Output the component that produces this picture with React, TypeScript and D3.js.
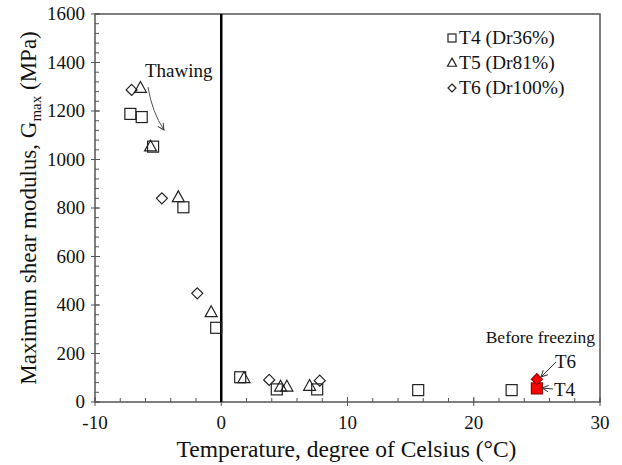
import React from 'react'
import * as d3 from 'd3'

// T4 (Dr36%) – squares
const t4Temp = [-7.2, -6.3, -5.4, -3.0, -0.4, 1.5, 4.4, 7.6, 15.6, 23.0]
const t4Gmax = [1188, 1175, 1053, 803, 306, 102, 52, 52, 49, 49]
// T5 (Dr81%) – triangles
const t5Temp = [-6.4, -5.6, -3.4, -0.8, 1.8, 4.7, 5.2, 7.0]
const t5Gmax = [1295, 1053, 844, 370, 98, 63, 63, 66]
// T6 (Dr100%) – diamonds
const t6Temp = [-7.1, -4.7, -1.9, 3.8, 7.8]
const t6Gmax = [1287, 840, 448, 91, 88]
// before freezing (red)
const beforeT4 = [25.0, 56]
const beforeT6 = [25.0, 94]

const xTicks = [-10, 0, 10, 20, 30]
const yTicks = [0, 200, 400, 600, 800, 1000, 1200, 1400, 1600]
const legendLabels = ['T4 (Dr36%)', 'T5 (Dr81%)', 'T6 (Dr100%)']

const W = 622
const H = 465
const margin = { top: 14, right: 22, bottom: 63, left: 95 }
const font = 'Liberation Serif, DejaVu Serif, serif'
const axisColor = '#555'
const ink = '#222'

const x = d3.scaleLinear().domain([-10, 30]).range([margin.left, W - margin.right])
const y = d3.scaleLinear().domain([0, 1600]).range([H - margin.bottom, margin.top])

const square = (cx: number, cy: number, s: number, fill = 'none', stroke = ink) => (
	<rect x={cx - s / 2} y={cy - s / 2} width={s} height={s} fill={fill} stroke={stroke} strokeWidth={1.2} />
)
const triangle = (cx: number, cy: number, s: number) => {
	const h = s * 0.9
	return (
		<path
			d={`M${cx},${cy - h * 0.6}L${cx + s / 2},${cy + h * 0.4}L${cx - s / 2},${cy + h * 0.4}Z`}
			fill="none"
			stroke={ink}
			strokeWidth={1.2}
		/>
	)
}
const diamond = (cx: number, cy: number, s: number, fill = 'none', stroke = ink) => (
	<path
		d={`M${cx},${cy - s / 2}L${cx + s / 2},${cy}L${cx},${cy + s / 2}L${cx - s / 2},${cy}Z`}
		fill={fill}
		stroke={stroke}
		strokeWidth={1.2}
	/>
)

export default function App() {
	const x0 = margin.left
	const x1 = W - margin.right
	const y0 = H - margin.bottom
	const y1 = margin.top

	const xMinor = d3.range(-10, 30.01, 2)
	const yMinor = d3.range(0, 1600.01, 40)

	return (
		<svg
			width={W}
			height={H}
			style={{ position: 'absolute', left: 0, top: 0, background: '#fff', fontFamily: font }}
		>
			{/* minor ticks */}
			{xMinor.map(v => (
				<line key={'xm' + v} x1={x(v)} x2={x(v)} y1={y0} y2={y0 - 4} stroke={axisColor} strokeWidth={1} />
			))}
			{xTicks.map(v => (
				<line key={'xM' + v} x1={x(v)} x2={x(v)} y1={y0 + 4} y2={y0 - 5} stroke={axisColor} strokeWidth={1} />
			))}
			{yMinor.map(v => (
				<line key={'ym' + v} x1={x0} x2={x0 + 4} y1={y(v)} y2={y(v)} stroke={axisColor} strokeWidth={1} />
			))}
			{yTicks.map(v => (
				<line key={'yM' + v} x1={x0 - 4} x2={x0 + 5} y1={y(v)} y2={y(v)} stroke={axisColor} strokeWidth={1} />
			))}

			{/* frame */}
			<rect x={x0} y={y1} width={x1 - x0} height={y0 - y1} fill="none" stroke={axisColor} strokeWidth={1.5} />

			{/* zero line */}
			<line x1={x(0)} x2={x(0)} y1={y1} y2={y0} stroke="#000" strokeWidth={2.5} />

			{/* tick labels */}
			{xTicks.map(v => (
				<text key={'xl' + v} x={x(v)} y={y0 + 27} textAnchor="middle" fontSize={19} fill="#111">
					{v}
				</text>
			))}
			{yTicks.map(v => (
				<text key={'yl' + v} x={x0 - 10} y={y(v) + 6} textAnchor="end" fontSize={19} fill="#111">
					{v}
				</text>
			))}

			{/* axis titles */}
			<text x={(x0 + x1) / 2 - 1} y={H - 8} textAnchor="middle" fontSize={23.5} fill="#111">
				Temperature, degree of Celsius (°C)
			</text>
			<text transform={`translate(36, ${(y0 + y1) / 2}) rotate(-90)`} textAnchor="middle" fontSize={23} fill="#111">
				Maximum shear modulus, G<tspan fontSize={15} dy={5}>max</tspan>
				<tspan dy={-5}> (MPa)</tspan>
			</text>

			{/* data */}
			{t4Temp.map((t, i) => (
				<g key={'t4' + i}>{square(x(t), y(t4Gmax[i]), 11)}</g>
			))}
			{t5Temp.map((t, i) => (
				<g key={'t5' + i}>{triangle(x(t), y(t5Gmax[i]), 12)}</g>
			))}
			{t6Temp.map((t, i) => (
				<g key={'t6' + i}>{diamond(x(t), y(t6Gmax[i]), 11)}</g>
			))}
			{square(x(beforeT4[0]), y(beforeT4[1]), 11, '#f00', '#900')}
			{diamond(x(beforeT6[0]), y(beforeT6[1]), 11, '#f00', '#900')}

			{/* legend */}
			{legendLabels.map((lab, i) => {
				const ly = 38 + i * 25
				return (
					<g key={lab}>
						{i === 0 && square(452, ly, 8)}
						{i === 1 && triangle(452, ly, 9)}
						{i === 2 && diamond(452, ly, 8)}
						<text x={459} y={ly + 6} fontSize={19.5} fill="#111">
							{lab}
						</text>
					</g>
				)
			})}

			{/* annotations */}
			<defs>
				<marker id="arr" viewBox="0 0 10 10" refX="9" refY="5" markerWidth="8" markerHeight="8" orient="auto">
					<path d="M1,1L9,5L1,9" fill="none" stroke="#333" strokeWidth={1.2} />
				</marker>
			</defs>
			<text x={145} y={77} fontSize={19} fill="#111">
				Thawing
			</text>
			<path d="M148,87Q152,112 164,130" fill="none" stroke="#555" strokeWidth={1} markerEnd="url(#arr)" />

			<text x={595} y={343} textAnchor="end" fontSize={17.5} fill="#111">
				Before freezing
			</text>
			<text x={555} y={368} fontSize={19} fill="#111">
				T6
			</text>
			<line x1={556} y1={362} x2={541} y2={377} stroke="#333" strokeWidth={1} markerEnd="url(#arr)" />
			<text x={554} y={396} fontSize={19} fill="#111">
				T4
			</text>
			<line x1={553} y1={389} x2={542} y2={388} stroke="#333" strokeWidth={1} markerEnd="url(#arr)" />
		</svg>
	)
}
